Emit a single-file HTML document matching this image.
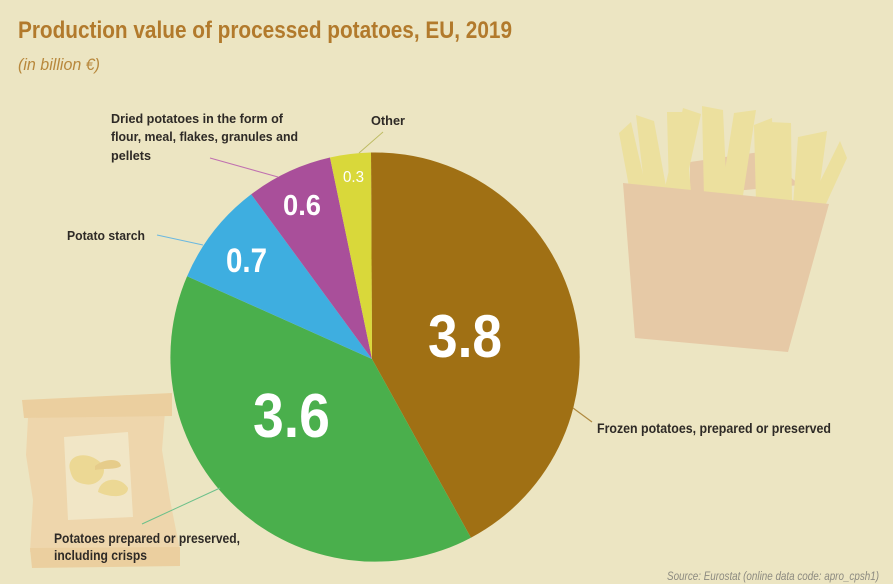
<!DOCTYPE html>
<html><head><meta charset="utf-8"><style>
html,body{margin:0;padding:0;background:#ece5c2;}
svg{display:block;}
text{font-family:"Liberation Sans",sans-serif;}
</style></head><body>
<svg width="893" height="584" viewBox="0 0 893 584" xmlns="http://www.w3.org/2000/svg">
<rect width="893" height="584" fill="#ece5c2"/>
<!-- fries box back -->
<polygon points="690,162 760,152 800,185 690,195" fill="#e6c9a6"/>
<!-- fries -->
<g fill="#ece09e">
<polygon points="619,133 631,122 647,192 630,192"/>
<polygon points="636,115 654,121 667,192 645,192"/>
<polygon points="667,112 684,112 691,192 669,192"/>
<polygon points="683,108 701,114 684,192 664,192"/>
<polygon points="702,106 723,110 727,198 704,198"/>
<polygon points="734,113 756,110 742,202 720,202"/>
<polygon points="754,125 772,118 775,202 756,202"/>
<polygon points="769,122 791,123 792,205 771,205"/>
<polygon points="798,137 827,131 817,206 793,206"/>
<polygon points="840,141 847,158 825,206 808,206"/>
</g>
<!-- fries box front -->
<polygon points="623,183 829,204 788,352 635,338" fill="#e6c9a6"/>
<!-- chips bag -->
<polygon points="28,418 165,412 162,450 170,500 180,550 30,552 33,500 26,455" fill="#eed6ac"/>
<polygon points="22,400 172,393 172,416 24,418" fill="#ebcf9f"/>
<polygon points="30,548 180,547 180,566 32,568" fill="#ebcf9f"/>
<polygon points="64,437 128,432 133,517 68,520" fill="#f1e6c6"/>
<path d="M70,470 C66,455 86,450 100,462 C110,470 100,488 84,484 C74,482 72,478 70,470Z" fill="#ecd894"/>
<path d="M95,466 C105,458 120,458 121,466 C116,470 106,468 95,470Z" fill="#e6cc8a"/>
<path d="M98,492 C100,478 120,475 128,488 C128,498 110,498 98,492Z" fill="#ecd894"/>
<!-- pie -->
<path d="M372,359 L371,152.5 A204.5,204.5 0 0 1 470.9,537.7 Z" fill="#a07014"/>
<path d="M372,359 L470.9,537.7 A204.5,204.5 0 0 1 187.1,276.2 Z" fill="#4aaf4c"/>
<path d="M372,359 L187.1,276.2 A204.5,204.5 0 0 1 251.2,194.3 Z" fill="#3eaee0"/>
<path d="M372,359 L251.2,194.3 A204.5,204.5 0 0 1 330,157.5 Z" fill="#a94f9a"/>
<path d="M372,359 L330,157.5 A204.5,204.5 0 0 1 371,152.5 Z" fill="#d9d83a"/>
<!-- leader lines -->
<line x1="210" y1="158" x2="278" y2="177" stroke="#c070b0" stroke-width="1"/>
<line x1="157" y1="235" x2="203" y2="245" stroke="#6ab8e0" stroke-width="1"/>
<line x1="383" y1="132" x2="359" y2="153" stroke="#bdbb62" stroke-width="1"/>
<line x1="573" y1="408" x2="592" y2="422" stroke="#b08a40" stroke-width="1.2"/>
<line x1="142" y1="524" x2="220" y2="488" stroke="#6cc08a" stroke-width="1"/>
<!-- title -->
<text x="18" y="38" font-size="24" font-weight="bold" fill="#b27a2c" textLength="494" lengthAdjust="spacingAndGlyphs">Production value of processed potatoes, EU, 2019</text>
<text x="18" y="70" font-size="17" font-style="italic" fill="#b8883c" textLength="82" lengthAdjust="spacingAndGlyphs">(in billion €)</text>
<!-- pie values -->
<text x="428" y="357" font-size="60" font-weight="bold" fill="#ffffff" textLength="74" lengthAdjust="spacingAndGlyphs">3.8</text>
<text x="253" y="437" font-size="62" font-weight="bold" fill="#ffffff" textLength="77" lengthAdjust="spacingAndGlyphs">3.6</text>
<text x="226" y="272" font-size="34" font-weight="bold" fill="#ffffff" textLength="41" lengthAdjust="spacingAndGlyphs">0.7</text>
<text x="283" y="215" font-size="29" font-weight="bold" fill="#ffffff" textLength="38" lengthAdjust="spacingAndGlyphs">0.6</text>
<text x="343" y="182" font-size="16" fill="#ffffff" textLength="21" lengthAdjust="spacingAndGlyphs">0.3</text>
<!-- labels -->
<g font-size="13" font-weight="bold" fill="#2e2a26">
<text x="111" y="123" textLength="172" lengthAdjust="spacingAndGlyphs">Dried potatoes in the form of</text>
<text x="111" y="141" textLength="187" lengthAdjust="spacingAndGlyphs">flour, meal, flakes, granules and</text>
<text x="111" y="160" textLength="40" lengthAdjust="spacingAndGlyphs">pellets</text>
<text x="67" y="240" textLength="78" lengthAdjust="spacingAndGlyphs">Potato starch</text>
<text x="371" y="125" textLength="34" lengthAdjust="spacingAndGlyphs">Other</text>
</g>
<g font-size="14" font-weight="bold" fill="#2e2a26">
<text x="597" y="433" textLength="234" lengthAdjust="spacingAndGlyphs">Frozen potatoes, prepared or preserved</text>
<text x="54" y="543" textLength="186" lengthAdjust="spacingAndGlyphs">Potatoes prepared or preserved,</text>
<text x="54" y="560" textLength="93" lengthAdjust="spacingAndGlyphs">including crisps</text>
</g>
<text x="667" y="580" font-size="12" font-style="italic" fill="#8c8a80" textLength="212" lengthAdjust="spacingAndGlyphs">Source: Eurostat (online data code: apro_cpsh1)</text>
</svg>
</body></html>
